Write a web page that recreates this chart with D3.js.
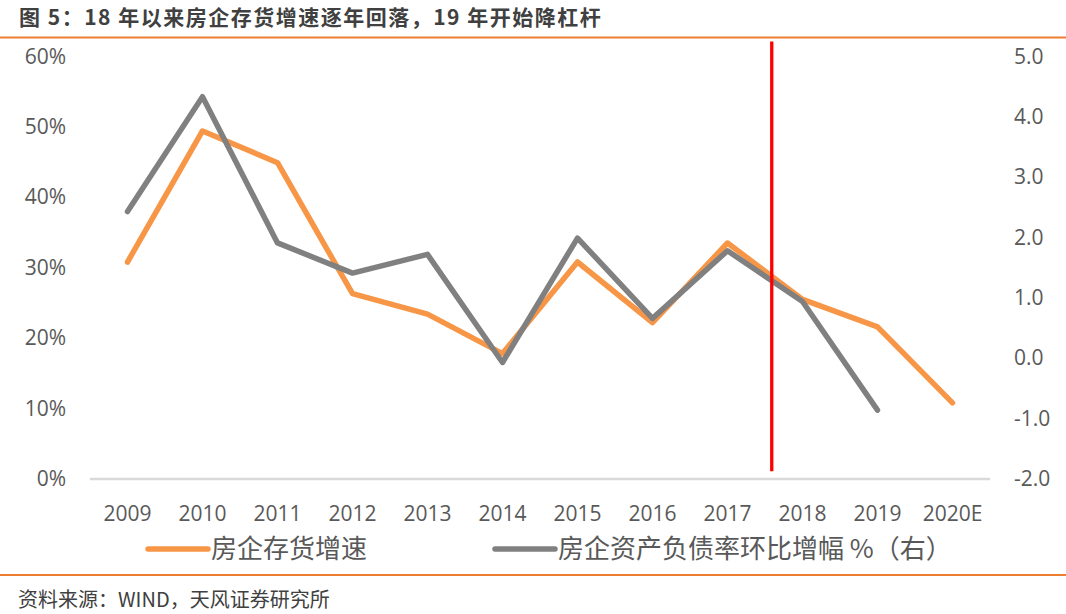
<!DOCTYPE html>
<html>
<head>
<meta charset="utf-8">
<script src="https://cdn.jsdelivr.net/npm/d3@7"></script>
<style>
  body { margin: 0; background: #fff; }
  svg { display: block; }
  text { font-family: "Open Sans", "Noto Sans CJK SC", sans-serif; }
  .cjk { font-family: "Noto Sans CJK SC", sans-serif; }
</style>
</head>
<body>
<div id="chart"></div>
<script>
// data
const years = ['2009', '2010', '2011', '2012', '2013', '2014', '2015', '2016', '2017', '2018', '2019', '2020E'];
const inventoryGrowth = [30.8, 49.4, 44.9, 26.3, 23.4, 17.8, 30.8, 22.2, 33.5, 25.5, 21.6, 10.8]; // %
const leverageChange = [2.43, 4.33, 1.91, 1.41, 1.72, -0.07, 1.99, 0.66, 1.78, 0.94, -0.86]; // right axis, no 2020E
const leftTicks = [0, 10, 20, 30, 40, 50, 60];
const rightTicks = [-2, -1, 0, 1, 2, 3, 4, 5];
const dividerIndex = 8.59; // red marker between 2017 and 2018
const dividerSpan = [1.1, 62.1]; // in left-axis %

const W = 1066, H = 614;
const svg = d3.select('#chart').append('svg').attr('width', W).attr('height', H);

const x = d3.scaleBand().domain(years).range([90, 990]).padding(0);
const cx = d => x(d) + x.bandwidth() / 2;
const xi = d3.scaleLinear().domain([0, years.length - 1]).range([cx(years[0]), cx(years[years.length - 1])]);
const yL = d3.scaleLinear().domain([0, 60]).range([479, 56.3]);
const yR = d3.scaleLinear().domain([-2, 5]).range([479, 56.3]);

// title + rules
svg.append('text').attr('class', 'cjk')
    .attr('x', 19).attr('y', 25)
    .attr('font-size', 21).attr('font-weight', 'bold').attr('fill', '#404040')
    .attr('letter-spacing', 1.5)
    .text('图 5：18 年以来房企存货增速逐年回落，19 年开始降杠杆');
svg.append('line').attr('x1', 0).attr('x2', W).attr('y1', 37.5).attr('y2', 37.5)
    .attr('stroke', '#ED7D31').attr('stroke-width', 2);
svg.append('line').attr('x1', 0).attr('x2', W).attr('y1', 575).attr('y2', 575)
    .attr('stroke', '#ED7D31').attr('stroke-width', 2);
svg.append('text').attr('class', 'cjk')
    .attr('x', 18).attr('y', 607)
    .attr('font-size', 20).attr('fill', '#404040')
    .text('资料来源：WIND，天风证券研究所');

// axes
const leftAxis = d3.axisLeft(yL).tickValues(leftTicks).tickSize(0).tickPadding(0)
    .tickFormat(d => d + '%');
const gL = svg.append('g').attr('transform', 'translate(66,0)').call(leftAxis);
const rightAxis = d3.axisRight(yR).tickValues(rightTicks).tickSize(0).tickPadding(0)
    .tickFormat(d => d.toFixed(1));
const gR = svg.append('g').attr('transform', 'translate(1014,0)').call(rightAxis);
const bottomAxis = d3.axisBottom(x).tickSize(0).tickPadding(0);
const gB = svg.append('g').attr('transform', 'translate(0,514)').call(bottomAxis);
[gL, gR, gB].forEach(g => {
    g.select('.domain').remove();
    g.selectAll('text').attr('font-size', 21).attr('fill', '#595959')
        .attr('font-family', '"Open Sans", sans-serif');
});
gB.selectAll('text').attr('dy', '0.35em');

// baseline
svg.append('line').attr('x1', 90).attr('x2', 990).attr('y1', yL(0)).attr('y2', yL(0))
    .attr('stroke', '#D9D9D9').attr('stroke-width', 2.5);

// lines
const orangeLine = d3.line().x((d, i) => cx(years[i])).y(d => yL(d));
svg.append('path').datum(inventoryGrowth)
    .attr('d', orangeLine).attr('fill', 'none')
    .attr('stroke', '#F79646').attr('stroke-width', 5.5)
    .attr('stroke-linejoin', 'round').attr('stroke-linecap', 'round');

const grayLine = d3.line().x((d, i) => cx(years[i])).y(d => yR(d));
svg.append('path').datum(leverageChange)
    .attr('d', grayLine).attr('fill', 'none')
    .attr('stroke', '#808080').attr('stroke-width', 5.5)
    .attr('stroke-linejoin', 'round').attr('stroke-linecap', 'round');

// red divider
svg.append('line')
    .attr('x1', xi(dividerIndex)).attr('x2', xi(dividerIndex))
    .attr('y1', yL(dividerSpan[1])).attr('y2', yL(dividerSpan[0]))
    .attr('stroke', '#FF0000').attr('stroke-width', 3.3);

// legend
const legend = [
    { label: '房企存货增速', color: '#F79646', x: 148 },
    { label: '房企资产负债率环比增幅 %（右）', color: '#808080', x: 495 }
];
legend.forEach(l => {
    svg.append('line').attr('x1', l.x).attr('x2', l.x + 60).attr('y1', 549).attr('y2', 549)
        .attr('stroke', l.color).attr('stroke-width', 5.5).attr('stroke-linecap', 'round');
    svg.append('text').attr('class', 'cjk')
        .attr('x', l.x + 63).attr('y', 549).attr('dy', '0.35em')
        .attr('font-size', 26).attr('fill', '#595959')
        .text(l.label);
});
</script>
</body>
</html>
